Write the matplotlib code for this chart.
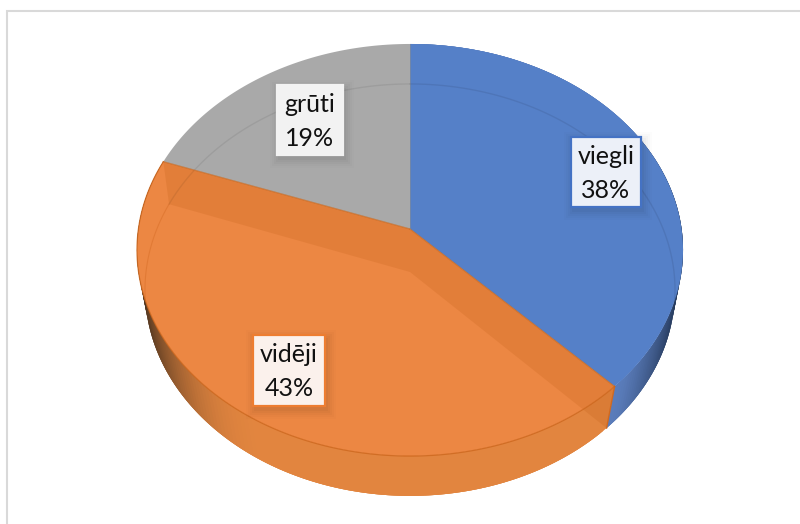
import numpy as np
import matplotlib
matplotlib.use('Agg')
import matplotlib.pyplot as plt
from matplotlib.patches import Polygon, Rectangle

categories = ['viegli', 'vidēji', 'grūti']
shares = [37.7, 42.85, 19.45]
colors = ['#5580C8', '#EC8743', '#A9A9A9']
wall_light = ['#5A7CBA', '#E2853F']
wall_dark = ['#263A5C', '#4F3520']
edge_colors = ['#4472C4', '#ED7D31', '#F2F2F2']
box_fills = ['#ECF0F8', '#FBF1EC', '#F2F2F2']
# label boxes: left, top, right, bottom
boxes = [(571, 137, 641, 207), (253, 335, 325, 406), (277, 85, 343, 155)]

# perspective of the two disks (pixels)
CX = 410
TOP = dict(cy=229, b=203.9, k=0.102, rx=271.6)
BOT = dict(cy=272, b=204.4, k=0.087, rx=264.0)


def project(theta, d):
    # theta in degrees, clockwise from 12 o'clock
    t = np.radians(theta)
    u, v = np.sin(t), np.cos(t)
    w = 1 + d['k'] * v
    return CX + d['rx'] * u / w, d['cy'] - d['b'] * v / w


def arc(a, b, d, n=120):
    x, y = project(np.linspace(a, b, n), d)
    return np.column_stack([x, y])


def mix(c1, c2, f):
    c1 = np.array(matplotlib.colors.to_rgb(c1))
    c2 = np.array(matplotlib.colors.to_rgb(c2))
    return tuple(c1 + (c2 - c1) * f)


fig = plt.figure(figsize=(8, 5.24), dpi=100)
ax = fig.add_axes([0, 0, 1, 1])
ax.set_xlim(0, 800)
ax.set_ylim(524, 0)
ax.axis('off')

# frame
ax.plot([7, 7, 800], [524, 11, 11], color='#D9D9D9', lw=1.5, solid_joinstyle='miter')

edges = np.cumsum([0] + shares) / sum(shares) * 360
apex_top = (CX, TOP['cy'])
apex_bot = (CX, BOT['cy'])

# side walls, strips overlap so no seams show between them
for i in range(2):
    steps = np.linspace(edges[i], edges[i + 1], 150)
    step = steps[1] - steps[0]
    for j in range(len(steps) - 1):
        t0 = steps[j]
        t1 = min(steps[j] + 3 * step, edges[i + 1])
        xm = project(t0 + step / 2, BOT)[0]
        if i == 0:
            f = np.clip((xm - 612) / (672 - 612), 0, 1) ** 1.3
        else:
            f = np.clip((270 - xm) / (270 - 147), 0, 1) ** 2.4
        c = mix(wall_light[i], wall_dark[i], f)
        quad = np.vstack([arc(t0, t1, TOP, 4), arc(t1, t0, BOT, 4)])
        ax.add_patch(Polygon(quad, closed=True, fc=c, ec='none', zorder=2))

# top faces
for i in range(3):
    pts = np.vstack([[apex_top], arc(edges[i], edges[i + 1], TOP)])
    ax.add_patch(Polygon(pts, closed=True, fc=colors[i], ec='none', zorder=3))

# orange cut faces seen through the slice
for e in (edges[1], edges[2]):
    p0 = project(e, TOP)
    p1 = project(e, BOT)
    ax.add_patch(Polygon([apex_top, p0, p1, apex_bot], closed=True,
                         fc='#B8560F', ec='none', alpha=0.18, zorder=4))

# lower disk seen through the top face
ax.plot(*arc(edges[2], 360, BOT).T, color='#000000', alpha=0.07, lw=1.0, zorder=5)
ax.plot(*arc(0, 100, BOT).T, color='#000000', alpha=0.08, lw=1.0, zorder=5)
ax.plot(*arc(262, edges[2], BOT).T, color='#D9702A', alpha=0.55, lw=0.8, zorder=5)

# orange outlines
for e in (edges[1], edges[2]):
    x0, y0 = project(e, TOP)
    ax.plot([CX, x0], [TOP['cy'], y0], color='#C8681F', lw=0.9, alpha=0.7, zorder=5)
ax.plot(*zip(project(edges[1], TOP), project(edges[1], BOT)), color='#D0691F', lw=1.0, zorder=5)
ax.plot(*arc(edges[1], edges[2], TOP).T, color='#CC661C', lw=0.9, alpha=0.8, zorder=5)
ax.plot([CX, CX], [TOP['cy'], 44], color='#8C8C8C', lw=0.6, alpha=0.6, zorder=5)

# labels
for name, share, box, fill, edge in zip(categories, shares, boxes, box_fills, edge_colors):
    l, t, r, b = box
    for grow, alpha in [(9, 0.012), (7, 0.016), (5, 0.02), (3, 0.025), (1, 0.03)]:
        ax.add_patch(Rectangle((l - grow + 2, t - grow + 4), r - l + 2 * grow, b - t + 2 * grow,
                               fc='black', ec='none', alpha=alpha, zorder=6))
    ax.add_patch(Rectangle((l, t), r - l, b - t, fc=fill, ec=edge, lw=1.6, zorder=7))
    xm = (l + r) / 2
    ax.text(xm, t + 20, name, ha='center', va='center', fontsize=18, family='Lato',
            color='#111111', zorder=8)
    ax.text(xm, t + 54, f'{share:.0f}%', ha='center', va='center', fontsize=18, family='Lato',
            color='#111111', zorder=8)

fig.savefig('out.png', dpi=100)
